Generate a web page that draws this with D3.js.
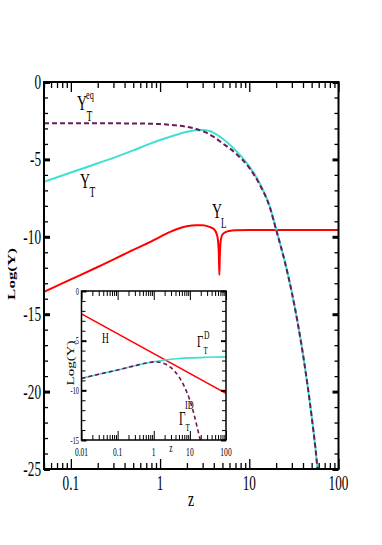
<!DOCTYPE html>
<html><head><meta charset="utf-8">
<script src="https://cdn.jsdelivr.net/npm/d3@7"></script>
<style>
body{margin:0;background:#fff}
svg{display:block}
text{font-family:"Liberation Serif","Times New Roman",serif;fill:#000}
</style>
</head><body>
<svg id="c" width="382" height="545"></svg>
<script>
// ---------- DATA ----------
// main panel
const zMain = [0.05,0.1,0.2,0.3,0.5,0.7,1,1.5,2,2.5,3,3.5,4,5,7,10,13,17,20,25,30,35,40,45,50,55,58.5];
const yTeq  = [-2.67,-2.67,-2.67,-2.67,-2.68,-2.69,-2.72,-2.8,-2.9,-3.02,-3.18,-3.35,-3.55,-3.95,-4.6,-5.55,-6.6,-8.1,-9.55,-11.6,-13.6,-15.6,-17.6,-19.6,-21.6,-23.6,-25.1];
const yT    = [-6.44,-5.85,-5.25,-4.9,-4.42,-4.08,-3.75,-3.42,-3.22,-3.12,-3.1,-3.15,-3.28,-3.65,-4.4,-5.45,-6.52,-8.05,-9.5,-11.6,-13.6,-15.6,-17.6,-19.6,-21.6,-23.6,-25.1];
const zL    = [0.05,0.1,0.2,0.5,0.8,1,1.3,1.65,2,2.5,3,3.5,4,4.3,4.45,4.56,4.62,4.68,4.8,5,5.5,6,7,10,20,50,100];
const yL    = [-13.55,-12.75,-11.95,-10.85,-10.3,-10.0,-9.68,-9.45,-9.32,-9.25,-9.26,-9.34,-9.5,-9.8,-10.2,-11.2,-12.47,-11.2,-10.2,-9.85,-9.68,-9.62,-9.58,-9.56,-9.56,-9.56,-9.56];
const xMajor = [0.1,1,10,100];
const xTickLabels = ["0.1","1","10","100"];
const yMajor = [0,-5,-10,-15,-20,-25];
const yTickLabels = ["0","-5","-10","-15","-20","-25"];

// inset panel
const zH   = [0.01,100];
const yH   = [-2.3,-10.3];
const zGD  = [0.01,0.03,0.1,0.3,0.7,1,2,5,10,30,100];
const yGD  = [-8.8,-8.38,-7.95,-7.52,-7.22,-7.12,-6.95,-6.8,-6.73,-6.67,-6.63];
const zGID = [0.01,0.03,0.1,0.3,0.7,1,1.5,2,3,5,7,10,13,16,19.5];
const yGID = [-8.8,-8.38,-7.95,-7.52,-7.22,-7.14,-7.18,-7.33,-7.72,-8.65,-9.6,-11.0,-12.4,-13.75,-15.05];
const ixMajor = [0.01,0.1,1,10,100];
const ixTickLabels = ["0.01","0.1","1","10","100"];
const iyMajor = [0,-5,-10,-15];
const iyTickLabels = ["0","-5","-10","-15"];

// ---------- DRAWING ----------
const SX = 0.63; // horizontal squeeze of the reference typography
const svg = d3.select("#c");
const M = {l:44, r:338.5, t:82, b:469};
const I = {l:81.5, r:226, t:291, b:440};

const x = d3.scaleLog().domain([0.05,100]).range([M.l,M.r]);
const y = d3.scaleLinear().domain([-25,0]).range([M.b,M.t]);
const ix = d3.scaleLog().domain([0.01,100]).range([I.l,I.r]);
const iy = d3.scaleLinear().domain([-15,0]).range([I.b,I.t]);

function logMinors(lo,hi){
  const out=[];
  for(let e=Math.floor(Math.log10(lo)); e<=Math.ceil(Math.log10(hi)); e++)
    for(let k=2;k<=9;k++){const v=k*Math.pow(10,e); if(v>=lo*0.999 && v<=hi*1.001) out.push(v);}
  return out;
}
function linMinors(lo,hi,majors){
  const out=[]; for(let v=lo; v<=hi; v++) if(!majors.includes(v)) out.push(v); return out;
}
function label(g, txt, px, py, size, anchor, opts={}){
  const t = g.append("text")
    .attr("transform", `translate(${px},${py}) scale(${SX},1)` + (opts.rot?` rotate(${opts.rot})`:""))
    .attr("text-anchor", anchor||"start")
    .attr("font-size", size)
    .text(txt);
  if(opts.bold) t.attr("font-weight","bold");
  return t;
}
function frameAxes(g, xs, ys, R, o){
  const add = (axis, tr, sw) => {
    const a = g.append("g").attr("transform", tr).call(axis);
    a.select(".domain").remove();
    a.selectAll("line").attr("stroke","#000").attr("stroke-width", sw);
    a.selectAll("text").remove();
  };
  const xm = logMinors(xs.domain()[0], xs.domain()[1]);
  const yd = ys.domain();
  const ym = linMinors(yd[0], yd[1], o.yMaj);
  add(d3.axisBottom(xs).tickValues(o.xMaj).tickSize(-o.xMajLen), `translate(0,${R.b})`, o.xw);
  add(d3.axisBottom(xs).tickValues(xm).tickSize(-o.xMinLen), `translate(0,${R.b})`, o.xw);
  add(d3.axisTop(xs).tickValues(o.xMaj).tickSize(-o.xMajLen), `translate(0,${R.t})`, o.xw);
  add(d3.axisTop(xs).tickValues(xm).tickSize(-o.xMinLen), `translate(0,${R.t})`, o.xw);
  add(d3.axisLeft(ys).tickValues(o.yMaj).tickSize(-o.yMajLen), `translate(${R.l},0)`, o.yMajW);
  add(d3.axisLeft(ys).tickValues(ym).tickSize(-o.yMinLen), `translate(${R.l},0)`, o.xw);
  add(d3.axisRight(ys).tickValues(o.yMaj).tickSize(-o.yMajLen), `translate(${R.r},0)`, o.yMajW);
  add(d3.axisRight(ys).tickValues(ym).tickSize(-o.yMinLen), `translate(${R.r},0)`, o.xw);
  g.append("rect").attr("x",R.l).attr("y",R.t).attr("width",R.r-R.l).attr("height",R.b-R.t)
    .attr("fill","none").attr("stroke","#000").attr("stroke-width",o.frameW);
}

svg.append("rect").attr("width",382).attr("height",545).attr("fill","#fff");

const defs = svg.append("defs");
defs.append("clipPath").attr("id","cm").append("rect")
  .attr("x",M.l).attr("y",M.t).attr("width",M.r-M.l).attr("height",M.b-M.t);
defs.append("clipPath").attr("id","ci").append("rect")
  .attr("x",I.l).attr("y",I.t).attr("width",I.r-I.l).attr("height",I.b-I.t);

const PURPLE = "#6b1a5c", CYAN = "#3fe0d0", RED = "#ff0000";

// ---- main curves ----
const lineM = d3.line().x(d=>x(d[0])).y(d=>y(d[1])).curve(d3.curveMonotoneX);
const gm = svg.append("g").attr("clip-path","url(#cm)");
gm.append("path").attr("d", lineM(d3.zip(zL,yL))).attr("fill","none").attr("stroke",RED).attr("stroke-width",2);
gm.append("path").attr("d", lineM(d3.zip(zMain,yT))).attr("fill","none").attr("stroke",CYAN).attr("stroke-width",2);
gm.append("path").attr("d", lineM(d3.zip(zMain,yTeq))).attr("fill","none").attr("stroke",PURPLE).attr("stroke-width",2).attr("stroke-dasharray","5,3");

// main axes
const ga = svg.append("g");
frameAxes(ga, x, y, M, {xMaj:xMajor, yMaj:yMajor, xMajLen:10, xMinLen:6, yMajLen:6, yMinLen:4, xw:1.3, yMajW:3, frameW:2});
xMajor.forEach((v,i)=> label(ga, xTickLabels[i], x(v), 490, 21, "middle"));
yMajor.forEach((v,i)=> label(ga, yTickLabels[i], 41, y(v)+7, 21, "end"));
label(ga, "z", 191, 506, 22, "middle");
label(ga, "Log(Y)", 15, 274, 17, "middle", {rot:-90, bold:true});

// main curve labels
label(ga, "Y", 77, 110, 22, "start");
label(ga, "T", 86.5, 121, 15, "start");
label(ga, "eq", 86, 99, 13, "start");
label(ga, "Y", 80, 188, 22, "start");
label(ga, "T", 89.5, 197, 15, "start");
label(ga, "Y", 212, 218, 22, "start");
label(ga, "L", 221, 228, 14, "start");

// ---- inset ----
const gi = svg.append("g");
gi.append("rect").attr("x",I.l).attr("y",I.t).attr("width",I.r-I.l).attr("height",I.b-I.t).attr("fill","#fff");
const lineI = d3.line().x(d=>ix(d[0])).y(d=>iy(d[1])).curve(d3.curveMonotoneX);
const gic = gi.append("g").attr("clip-path","url(#ci)");
gic.append("path").attr("d", lineI(d3.zip(zH,yH))).attr("fill","none").attr("stroke",RED).attr("stroke-width",1.6);
gic.append("path").attr("d", lineI(d3.zip(zGD,yGD))).attr("fill","none").attr("stroke",CYAN).attr("stroke-width",1.6);
gic.append("path").attr("d", lineI(d3.zip(zGID,yGID))).attr("fill","none").attr("stroke",PURPLE).attr("stroke-width",1.6).attr("stroke-dasharray","4,3");
frameAxes(gi, ix, iy, I, {xMaj:ixMajor, yMaj:iyMajor, xMajLen:9, xMinLen:5, yMajLen:5, yMinLen:4, xw:1, yMajW:2, frameW:1.5});
ixMajor.forEach((v,i)=> label(gi, ixTickLabels[i], ix(v), 456, 12, "middle"));
iyMajor.forEach((v,i)=> label(gi, iyTickLabels[i], 79, iy(v)+3.5, 10, "end"));
label(gi, "z", 171, 452, 12, "middle");
label(gi, "Log(Y)", 74, 363, 15, "middle", {rot:-90});
label(gi, "H", 102, 343, 15, "start");
label(gi, "\u0393", 197, 347, 17, "start");
label(gi, "T", 203.5, 354, 11, "start");
label(gi, "D", 204, 339, 12, "start");
label(gi, "\u0393", 179, 425, 18, "start");
label(gi, "T", 185.5, 431, 11, "start");
label(gi, "ID", 185, 409, 13, "start");
</script>
</body></html>
